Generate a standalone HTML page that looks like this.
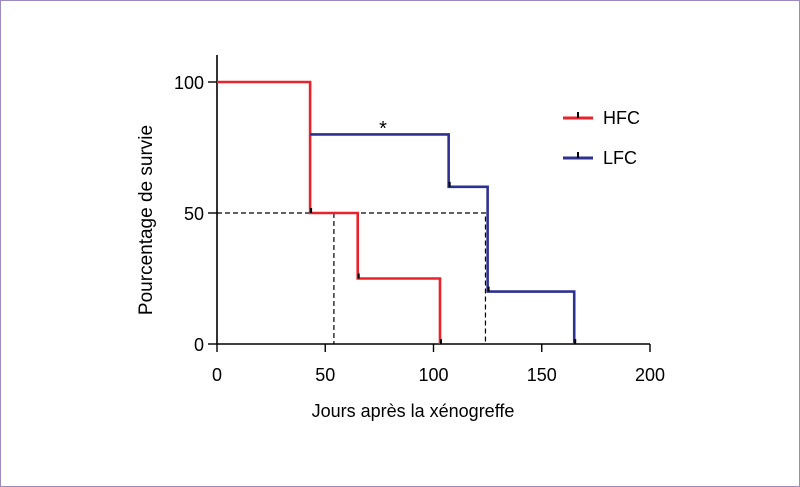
<!DOCTYPE html>
<html><head><meta charset="utf-8"><style>
body{margin:0;background:#fff}
svg{display:block;font-family:"Liberation Sans",sans-serif}
</style></head><body>
<svg width="800" height="487" viewBox="0 0 800 487">
<rect x="0.5" y="0.5" width="799" height="486" fill="#fff" stroke="#9b8ac4" stroke-width="1"/>
<g id="axes"></g>
<g id="series"></g>
</svg>
<script>
const xTicks=[0,50,100,150,200];
const yTicks=[0,50,100];
const hfcTimes=[0,43,65,103];
const hfcValues=[100,50,25,0];
const lfcTimes=[43,107,125,165];
const lfcValues=[80,60,20,0];
const hfcMedian=54;
const lfcMedian=124;
const X=v=>217+v*(650-217)/200;
const Y=v=>344-v*(344-82)/100;
const NS='http://www.w3.org/2000/svg';
function mk(tag,attrs,parent){const e=document.createElementNS(NS,tag);for(const k in attrs)e.setAttribute(k,attrs[k]);parent.appendChild(e);return e;}
const ax=document.getElementById('axes'),se=document.getElementById('series');
let yl=mk('line',{x1:217,y1:55,x2:217,y2:344,stroke:'#000','stroke-width':1.6},ax);


let xl=mk('line',{x1:217,y1:344,x2:650,y2:344,stroke:'#000','stroke-width':1.6},ax);


xTicks.forEach(t=>{
 mk('line',{x1:X(t),y1:344,x2:X(t),y2:352,stroke:'#000','stroke-width':1.4},ax);
 const tx=mk('text',{x:X(t),y:381,'text-anchor':'middle','font-size':18},ax);tx.textContent=t;
 
 
});
yTicks.forEach(t=>{
 mk('line',{x1:208,y1:Y(t),x2:217,y2:Y(t),stroke:'#000','stroke-width':1.4},ax);
 const tx=mk('text',{x:204,y:Y(t)+7,'text-anchor':'end','font-size':18},ax);tx.textContent=t;
 
 
});
let xt=mk('text',{x:413,y:417,'text-anchor':'middle','font-size':18},ax);xt.textContent='Jours après la xénogreffe';


let yt=mk('text',{x:152,y:220,'text-anchor':'middle','font-size':19,transform:'rotate(-90 152 220)'},ax);yt.textContent='Pourcentage de survie';


let d='M'+X(0)+' '+Y(50)+'H'+X(lfcMedian)+'V'+Y(0)+'M'+X(hfcMedian)+' '+Y(50)+'V'+Y(0);
let dl=mk('path',{d:d,fill:'none',stroke:'#000','stroke-width':1.2,'stroke-dasharray':'5,3'},se);


function step(times,vals,color,name){
 let p='M'+X(times[0])+' '+Y(vals[0]);
 for(let i=1;i<times.length;i++){p+='H'+X(times[i])+'V'+Y(vals[i]);}
 const e=mk('path',{d:p,fill:'none',stroke:color,'stroke-width':2.6},se);
 
 
 for(let i=1;i<times.length;i++){mk('line',{x1:X(times[i])+1,y1:Y(vals[i]),x2:X(times[i])+1,y2:Y(vals[i])-5,stroke:'#000','stroke-width':2},se);}
}
step(hfcTimes,hfcValues,'#e8232a','hfc-line');
step(lfcTimes,lfcValues,'#2e3192','lfc-line');
let st=mk('text',{x:383,y:135,'text-anchor':'middle','font-size':20},se);st.textContent='*';


[['HFC','#e8232a',114],['LFC','#2e3192',154]].forEach(([n,c,y])=>{
 const g=mk('g',{},se);
 
 
 mk('line',{x1:563,y1:y+4,x2:593,y2:y+4,stroke:c,'stroke-width':3},g);
 mk('line',{x1:578,y1:y+4,x2:578,y2:y-2,stroke:'#000','stroke-width':2},g);
 const t=mk('text',{x:603,y:y+10,'font-size':18},g);t.textContent=n;
});
</script>
</body></html>
